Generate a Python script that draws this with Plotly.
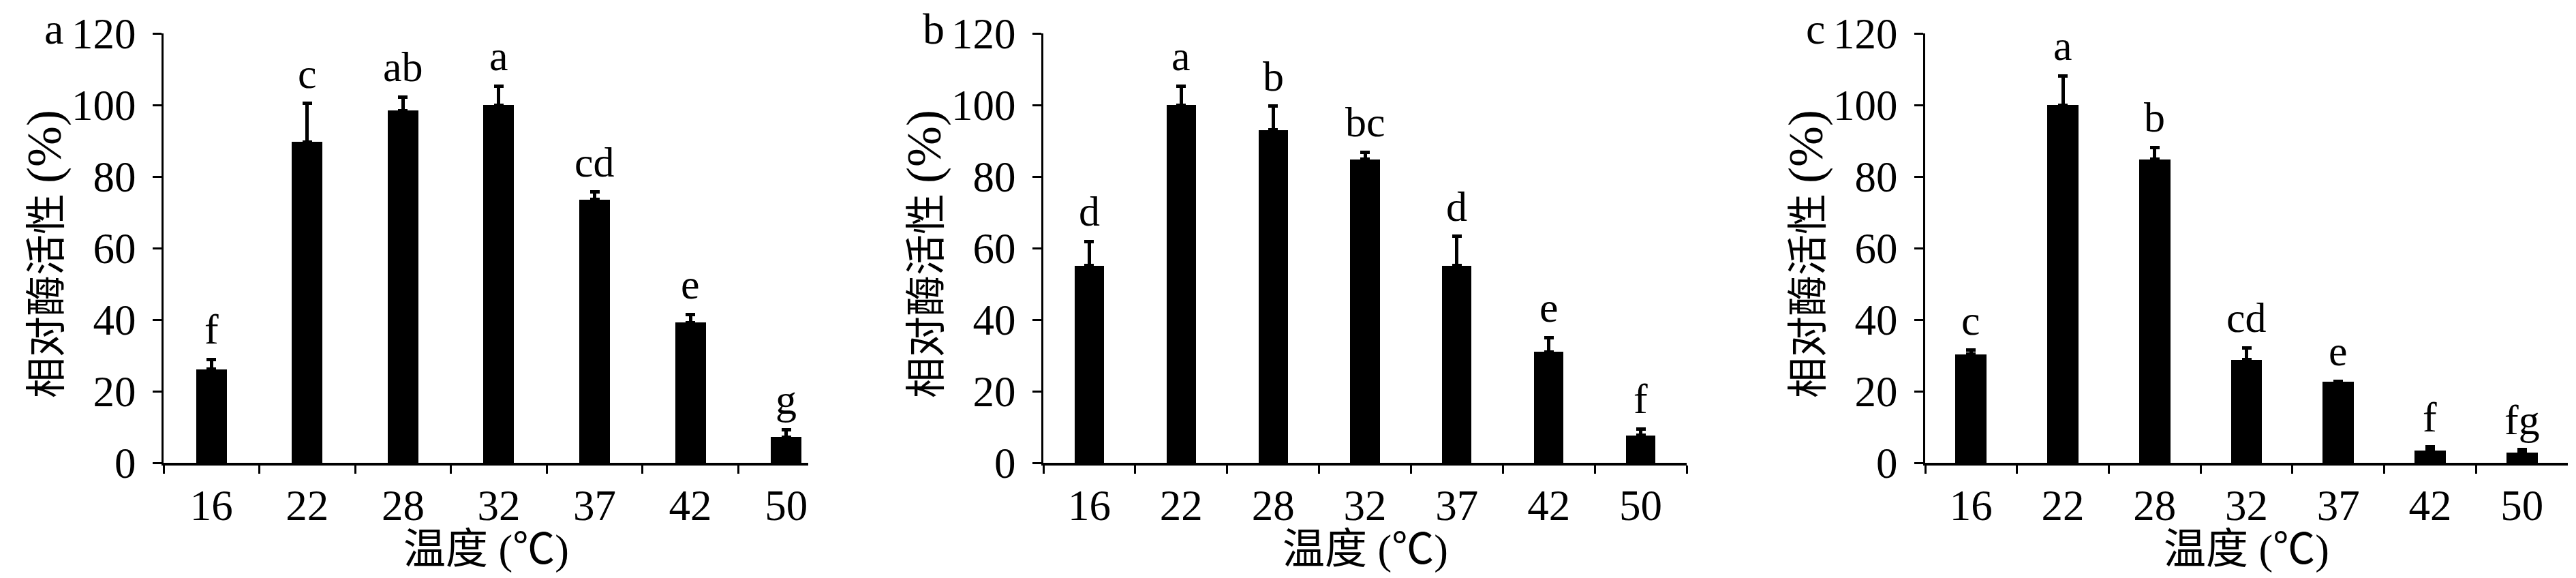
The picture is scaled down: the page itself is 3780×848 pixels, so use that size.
import plotly.graph_objects as go

# ---------------- data ----------------
categories = ["16", "22", "28", "32", "37", "42", "50"]

means_a = [26.1, 89.7, 98.4, 100.0, 73.6, 39.2, 7.2]
errs_a = [2.8, 10.7, 3.8, 5.3, 2.1, 2.3, 2.1]
letters_a = ["f", "c", "ab", "a", "cd", "e", "g"]

means_b = [55.1, 100.0, 93.0, 84.8, 55.1, 31.0, 7.7]
errs_b = [6.8, 5.3, 6.7, 2.0, 8.2, 4.0, 1.8]
letters_b = ["d", "a", "b", "bc", "d", "e", "f"]

means_c = [30.3, 100.0, 84.8, 28.8, 22.6, 3.5, 2.8]
errs_c = [1.2, 8.1, 3.3, 3.3, 0.2, 0.9, 0.9]
letters_c = ["c", "a", "b", "cd", "e", "f", "fg"]

panel_tags = ["a", "b", "c"]
y_ticks = [0, 20, 40, 60, 80, 100, 120]
x_title = "温度 (<span style=\"font-family:'Noto Sans CJK SC'\">℃</span>)"
y_title = "相对酶活性 <span style='font-size:72px'>(%)</span>"

# ---------------- layout geometry ----------------
W, H = 3780, 848
panels_px = [(232, 1178), (1523, 2467), (2817, 3760)]
x_ranges = [[-0.5, 6.23], [-0.5, 6.5], [-0.5, 6.5]]
bar_widths = [0.32, 0.32, 0.34]
y_top_px, y_bot_px = 41, 671
y_dom = [1 - y_bot_px / H, 1 - y_top_px / H]

SERIF = "Liberation Serif, 'Times New Roman', 'Noto Sans CJK SC', serif"
CJK = "Liberation Serif, 'Noto Sans CJK SC', serif"

fig = go.Figure()
datasets = [(means_a, errs_a, letters_a), (means_b, errs_b, letters_b), (means_c, errs_c, letters_c)]

annotations = []
for i, (means, errs, letters) in enumerate(datasets):
    xa = "x" if i == 0 else f"x{i+1}"
    ya = "y" if i == 0 else f"y{i+1}"
    fig.add_trace(go.Bar(
        x=categories, y=means, xaxis=xa, yaxis=ya,
        width=bar_widths[i],
        marker=dict(color="black", line=dict(width=0)),
        error_y=dict(type="data", array=errs, arrayminus=[0] * len(errs), symmetric=False,
                     color="black", thickness=5, width=7),
        showlegend=False,
    ))
    for k, (m, e, t) in enumerate(zip(means, errs, letters)):
        annotations.append(dict(
            x=k, y=m + e, xref=xa, yref=ya, text=t, showarrow=False,
            yanchor="bottom", xanchor="center", yshift=8,
            font=dict(family=SERIF, size=62, color="black"),
        ))
    x0, x1 = panels_px[i]
    lay_x = "xaxis" if i == 0 else f"xaxis{i+1}"
    lay_y = "yaxis" if i == 0 else f"yaxis{i+1}"
    fig.layout[lay_x] = dict(
        domain=[x0 / W, x1 / W], anchor=ya, type="category",
        range=x_ranges[i], tickson="boundaries",
        ticks="outside", ticklen=12, tickwidth=3, tickcolor="black",
        showline=True, linecolor="black", linewidth=4,
        showgrid=False, zeroline=False, automargin=False,
        tickfont=dict(family=SERIF, size=63, color="black"),
        ticklabelstandoff=4,
    )
    fig.layout[lay_y] = dict(
        domain=y_dom, anchor=xa, range=[0, 120],
        tickvals=y_ticks, ticks="outside", ticklen=13, tickwidth=3, tickcolor="black",
        showline=True, linecolor="black", linewidth=3,
        showgrid=False, zeroline=False, automargin=False,
        tickfont=dict(family=SERIF, size=63, color="black"),
        ticklabelstandoff=12,
    )
    # axis titles
    annotations.append(dict(
        x=(x0 + x1) / 2 / W, y=1 - 792 / H, xref="paper", yref="paper",
        text=x_title, showarrow=False, xanchor="center", yanchor="middle",
        font=dict(family=CJK, size=62, color="black"),
    ))
    annotations.append(dict(
        x=(x0 - 175) / W, y=1 - 365 / H, xref="paper", yref="paper",
        text=y_title, showarrow=False, xanchor="center", yanchor="middle", textangle=-90,
        font=dict(family=CJK, size=60, color="black"),
    ))
    annotations.append(dict(
        x=(x0 - 161) / W, y=1 - 34 / H, xref="paper", yref="paper",
        text=panel_tags[i], showarrow=False, xanchor="center", yanchor="middle",
        font=dict(family=SERIF, size=64, color="black"),
    ))

fig.update_layout(
    width=W, height=H,
    margin=dict(l=0, r=0, t=0, b=0),
    paper_bgcolor="white", plot_bgcolor="white",
    annotations=annotations,
    bargap=0,
)

fig.write_html("out.html")
